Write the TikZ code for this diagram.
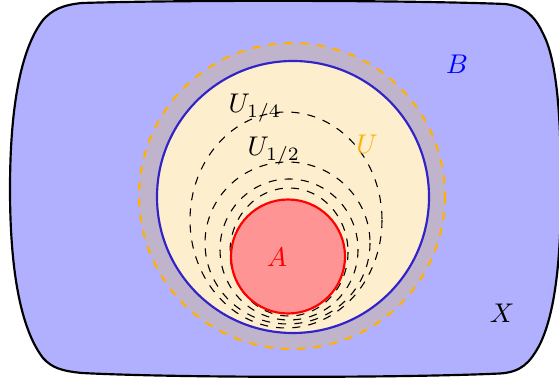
\documentclass[tikz,border=0pt]{standalone}
\begin{document}
\begin{tikzpicture}[x=0.37pt,y=-0.37pt,
  setline/.style={thick},
  level/.style={thin,dashed,black}]
\definecolor{blobfill}{RGB}{176,176,255}
\definecolor{bandfill}{RGB}{192,180,205}
\definecolor{creamfill}{RGB}{253,238,206}
\definecolor{redfill}{RGB}{255,148,148}
\definecolor{bluedge}{RGB}{50,35,200}
\definecolor{amber}{RGB}{255,176,0}
\useasboundingbox (0,0) rectangle (559,379);
% outer set X
\filldraw[setline,fill=blobfill,draw=black]
 (43,20) .. controls (20,50) and (10,110) .. (10,189)
 .. controls (10,268) and (20,328) .. (43,358)
 .. controls (52,368) and (62,371) .. (82,373)
 .. controls (180,378) and (400,378) .. (500,373.5)
 .. controls (522,372) and (530,362) .. (539,346)
 .. controls (555,315) and (561,260) .. (561,189)
 .. controls (561,110) and (556,65) .. (546,40)
 .. controls (538,22) and (530,7) .. (505,4)
 .. controls (400,0) and (180,0) .. (82,3)
 .. controls (62,5) and (52,10) .. cycle;
% U (orange dashed) with band
\filldraw[fill=bandfill,draw=amber,thick,dashed] (292,196) circle[radius=153];
% B (blue)
\filldraw[fill=creamfill,draw=bluedge,thick] (293,197) circle[radius=136];
% level sets
\draw[level] (286,220) ellipse[x radius=96,y radius=108];
\draw[level] (287.5,243) ellipse[x radius=82.5,y radius=81];
\draw[level] (289,249.5) ellipse[x radius=69,y radius=70.5];
\draw[level] (289,252) ellipse[x radius=59,y radius=64];
% A
\filldraw[fill=redfill,draw=red,thick] (288,256.5) circle[radius=57];
% labels
\node[text=red] (la) at (277,257) {$A$};
\node[text=blue] (lb) at (457,64) {$B$};
\node[text=amber] (lu) at (367,144) {$U$};
\node (lx) at (502,313) {$X$};
\node[anchor=base west,inner sep=0pt] (l4) at (228,113) {$U_{1/4}$};
\node[anchor=base west,inner sep=0pt] (l2) at (247,156) {$U_{1/2}$};
\end{tikzpicture}
\end{document}
